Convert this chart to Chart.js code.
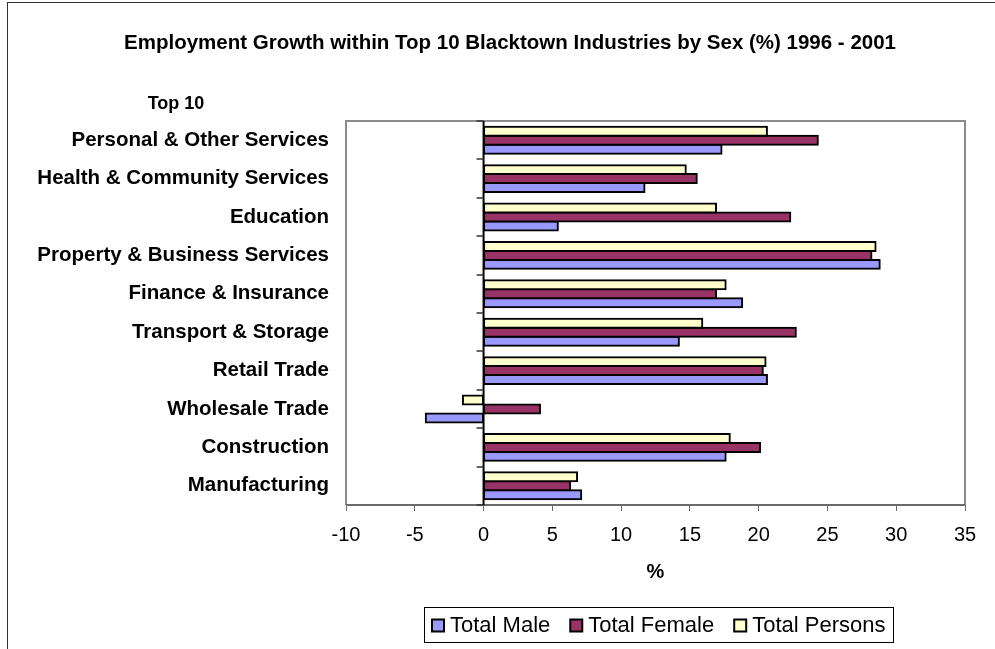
<!DOCTYPE html>
<html>
<head>
<meta charset="utf-8">
<title>Employment Growth within Top 10 Blacktown Industries</title>
<script src="https://cdn.jsdelivr.net/npm/chart.js@4.4.1/dist/chart.umd.min.js"></script>
<style>
    body { margin: 0; background: #fff; }
    #wrap { position: relative; width: 995px; height: 649px; overflow: hidden; }
    #frame { position: absolute; left: 7px; top: 2px; width: 1000px; height: 700px;
             border-left: 1px solid #333; border-top: 1px solid #333; }
    #growthChart { position: absolute; left: 0; top: 0; }
</style>
</head>
<body>
<div id="wrap">
    <div id="frame"></div>
    <canvas id="growthChart" width="995" height="649"></canvas>
</div>
<script>
const industries = [
    'Personal & Other Services',
    'Health & Community Services',
    'Education',
    'Property & Business Services',
    'Finance & Insurance',
    'Transport & Storage',
    'Retail Trade',
    'Wholesale Trade',
    'Construction',
    'Manufacturing'
];

const totalMale = [17.3, 11.7, 5.4, 28.8, 18.8, 14.2, 20.6, -4.2, 17.6, 7.1];
const totalFemale = [24.3, 15.5, 22.3, 28.2, 16.9, 22.7, 20.3, 4.1, 20.1, 6.3];
const totalPersons = [20.6, 14.7, 16.9, 28.5, 17.6, 15.9, 20.5, -1.5, 17.9, 6.8];

const xTicks = [-10, -5, 0, 5, 10, 15, 20, 25, 30, 35];

const FONT = "'Liberation Sans', Arial, sans-serif";

// plot frame, zero axis with its category tick marks
const framePlugin = {
    id: 'framePlugin',
    afterDatasetsDraw(chart) {
        const { ctx, chartArea: a, scales: { x } } = chart;
        ctx.save();
        ctx.lineWidth = 2;
        ctx.strokeStyle = '#8c8c8c';
        ctx.beginPath();
        ctx.moveTo(a.left, a.bottom);
        ctx.lineTo(a.left, a.top);
        ctx.lineTo(a.right, a.top);
        ctx.lineTo(a.right, a.bottom);
        ctx.stroke();
        ctx.strokeStyle = '#6a6a6a';
        ctx.beginPath();
        ctx.moveTo(a.left, a.bottom);
        ctx.lineTo(a.right, a.bottom);
        ctx.stroke();

        const x0 = x.getPixelForValue(0);
        ctx.strokeStyle = '#000';
        ctx.beginPath();
        ctx.moveTo(x0, a.top);
        ctx.lineTo(x0, a.bottom);
        ctx.stroke();

        const band = (a.bottom - a.top) / industries.length;
        ctx.lineWidth = 1.5;
        ctx.strokeStyle = '#333';
        ctx.beginPath();
        for (let i = 0; i <= industries.length; i++) {
            const ty = Math.round(a.top + i * band);
            ctx.moveTo(x0 - 7, ty);
            ctx.lineTo(x0, ty);
        }
        ctx.stroke();
        ctx.restore();
    }
};

// title, row heading and the boxed legend
const textPlugin = {
    id: 'textPlugin',
    afterDraw(chart) {
        const ctx = chart.ctx;
        ctx.save();
        ctx.fillStyle = '#000';
        ctx.textBaseline = 'middle';
        ctx.textAlign = 'center';
        ctx.font = 'bold 20.5px ' + FONT;
        ctx.fillText('Employment Growth within Top 10 Blacktown Industries by Sex (%) 1996 - 2001', 510, 43);
        ctx.font = 'bold 18px ' + FONT;
        ctx.fillText('Top 10', 176, 104);

        // legend in Male, Female, Persons order
        const items = chart.data.datasets.slice().reverse();
        ctx.font = '22px ' + FONT;
        const sw = 12, gap = 6, itemGap = 20, pad = 8;
        let total = 0;
        items.forEach((d, i) => {
            total += sw + gap + ctx.measureText(d.label).width + (i < items.length - 1 ? itemGap : 0);
        });
        const boxW = Math.round(total + pad * 2);
        const cx = 658;
        const boxL = Math.round(cx - boxW / 2);
        const boxT = 607, boxH = 35;
        ctx.lineWidth = 1;
        ctx.strokeStyle = '#000';
        ctx.strokeRect(boxL + 0.5, boxT + 0.5, boxW, boxH);
        let lx = boxL + pad;
        const ly = boxT + boxH / 2 + 1;
        ctx.textAlign = 'left';
        items.forEach(d => {
            ctx.fillStyle = d.backgroundColor;
            ctx.fillRect(lx, ly - sw / 2, sw, sw);
            ctx.lineWidth = 2;
            ctx.strokeStyle = '#000';
            ctx.strokeRect(lx, ly - sw / 2, sw, sw);
            lx += sw + gap;
            ctx.fillStyle = '#000';
            ctx.fillText(d.label, lx, ly);
            lx += ctx.measureText(d.label).width + itemGap;
        });
        ctx.restore();
    }
};

function makeDataset(label, data, color) {
    return {
        label: label,
        data: data,
        backgroundColor: color,
        borderColor: '#000',
        borderWidth: 2,
        borderSkipped: false,
        inflateAmount: 1,
        barPercentage: 1,
        categoryPercentage: 0.7
    };
}

new Chart(document.getElementById('growthChart'), {
    type: 'bar',
    data: {
        labels: industries,
        datasets: [
            makeDataset('Total Persons', totalPersons, '#FFFFCC'),
            makeDataset('Total Female', totalFemale, '#993366'),
            makeDataset('Total Male', totalMale, '#9999FF')
        ]
    },
    options: {
        indexAxis: 'y',
        responsive: false,
        animation: false,
        layout: {
            padding: { left: 0, right: 30, top: 121, bottom: 61 }
        },
        scales: {
            x: {
                min: xTicks[0],
                max: xTicks[xTicks.length - 1],
                afterBuildTicks(scale) {
                    scale.ticks = xTicks.map(v => ({ value: v }));
                },
                afterFit(scale) {
                    scale.height = 83;
                },
                grid: {
                    drawOnChartArea: false,
                    drawTicks: true,
                    tickLength: 6,
                    color: '#6a6a6a'
                },
                border: { display: false },
                ticks: {
                    color: '#000',
                    padding: 12,
                    font: { family: FONT, size: 20 }
                },
                title: {
                    display: true,
                    text: '%',
                    color: '#000',
                    font: { family: FONT, size: 20, weight: 'bold' }
                }
            },
            y: {
                afterFit(scale) {
                    scale.width = 346;
                },
                grid: { display: false, drawTicks: false },
                border: { display: false },
                ticks: {
                    color: '#000',
                    padding: 17,
                    font: { family: FONT, size: 20.5, weight: 'bold' }
                }
            }
        },
        plugins: {
            legend: { display: false },
            tooltip: { enabled: false }
        }
    },
    plugins: [framePlugin, textPlugin]
});
</script>
</body>
</html>
